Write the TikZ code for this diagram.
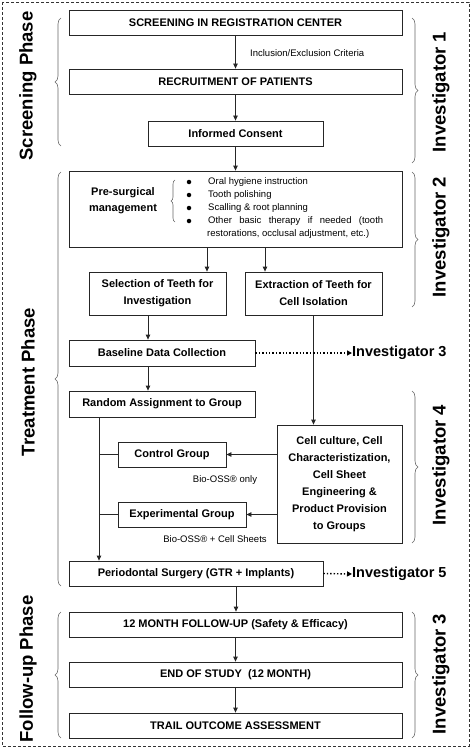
\documentclass[tikz,border=0pt]{standalone}
\usepackage{fontspec}
\setmainfont{Liberation Sans}
\usetikzlibrary{arrows.meta,decorations.pathreplacing}
\begin{document}
\begin{tikzpicture}[x=1pt,y=-1pt,
 box/.style={draw=black!85,line width=0.8pt,inner sep=0pt,font=\bfseries\fontsize{11}{17}\selectfont,align=center},
 arr/.style={draw=black!85,line width=0.8pt,-{Triangle[length=5pt,width=4.5pt]}},
 ln/.style={draw=black!85,line width=0.8pt},
 dots/.style={draw=black,line width=1.4pt,dash pattern=on 1.4pt off 2pt,-{Triangle[length=5pt,width=5pt]}},
 brc/.style={draw=black!60,line width=0.6pt,decorate,decoration={brace,amplitude=6pt}},
 sbrc/.style={draw=black!60,line width=0.6pt,decorate,decoration={brace,amplitude=4pt}},
 side/.style={font=\bfseries\fontsize{18.5}{20}\selectfont,rotate=90},
 inv/.style={font=\bfseries\fontsize{14.5}{16}\selectfont,anchor=west,inner sep=0pt},
 small/.style={font=\fontsize{9.5}{11}\selectfont,inner sep=0pt},
 bul/.style={circle,fill=black,inner sep=0pt,minimum size=4.5pt},
]
\useasboundingbox (0,0) rectangle (472,749);
\draw[line width=0.8pt,black!80,dash pattern=on 3pt off 2pt] (2,2) rectangle (469,746);

% boxes
\node[box,minimum width=333pt,minimum height=25pt] (screen) at (235.5,22.5) {SCREENING IN REGISTRATION CENTER};
\node[box,minimum width=333pt,minimum height=25pt] (recruit) at (235.5,81.5) {RECRUITMENT OF PATIENTS};
\node[box,minimum width=175pt,minimum height=25pt] (consent) at (235.5,133.5) {Informed Consent};
\node[box,minimum width=333pt,minimum height=76pt] (presurg) at (235.5,209) {};
\node[box,minimum width=137pt,minimum height=43pt] (select) at (157.5,293.5) {Selection of Teeth for\\Investigation};
\node[box,minimum width=137pt,minimum height=43pt] (extract) at (313.5,293.5) {Extraction of Teeth for\\Cell Isolation};
\node[box,minimum width=186pt,minimum height=26pt] (baseline) at (162,353) {Baseline Data Collection};
\node[box,minimum width=186pt,minimum height=26pt] (random) at (162,404) {Random Assignment to Group};
\node[box,minimum width=108pt,minimum height=25pt] (control) at (172,454.5) {Control Group};
\node[box,minimum width=125pt,minimum height=118pt] (cell) at (339.5,484) {Cell culture, Cell\\Characteristization,\\Cell Sheet\\Engineering \&\\Product Provision\\to Groups};
\node[box,minimum width=128pt,minimum height=25pt] (exper) at (182,514.5) {Experimental Group};
\node[box,minimum width=254pt,minimum height=25pt] (surgery) at (196,573.5) {Periodontal Surgery (GTR + Implants)};
\node[box,minimum width=333pt,minimum height=25pt] (follow) at (235.5,624.5) {12 MONTH FOLLOW-UP (Safety \& Efficacy)};
\node[box,minimum width=333pt,minimum height=25pt] (endst) at (235.5,674.5) {END OF STUDY\ \ (12 MONTH)};
\node[box,minimum width=333pt,minimum height=25pt] (trail) at (235.5,725.5) {TRAIL OUTCOME ASSESSMENT};

% pre-surgical content
\node[font=\bfseries\fontsize{11}{16}\selectfont,align=center] (pstitle) at (123,201) {Pre-surgical\\management};
\draw[sbrc] (175,222) -- (175,180);
\node[bul] (b1) at (189,182) {};
\node[bul] (b2) at (189,195) {};
\node[bul] (b3) at (189,208) {};
\node[bul] (b4) at (189,221) {};
\node[small,anchor=west] (t1) at (208,182) {Oral hygiene instruction};
\node[small,anchor=west] (t2) at (208,195) {Tooth polishing};
\node[small,anchor=west] (t3) at (208,208) {Scalling \& root planning};
\node[small,anchor=west] (t4) at (208,221) {\makebox[175pt][s]{Other basic therapy if needed (tooth}};
\node[small,anchor=west] (t5) at (207,234) {restorations, occlusal adjustment, etc.)};

% labels
\node[small,anchor=west] (incl) at (250,53) {Inclusion/Exclusion Criteria};
\node[small] (bio1) at (225,480) {Bio-OSS\textregistered\ only};
\node[small] (bio2) at (215,539) {Bio-OSS\textregistered\ + Cell Sheets};
\node[inv] (inv3a) at (352,353) {Investigator 3};
\node[inv] (inv5) at (352,574) {Investigator 5};

% side labels
\node[side] (ph1) at (28,86) {Screening Phase};
\node[side] (ph2) at (28,382) {Treatment Phase};
\node[side] (ph3) at (28,669) {Follow-up Phase};
\node[side] (i1) at (441,92) {Investigator 1};
\node[side] (i2) at (441,237) {Investigator 2};
\node[side] (i4) at (441,465) {Investigator 4};
\node[side] (i3) at (441,674) {Investigator 3};

% braces
\draw[brc] (61,146) -- (61,18);
\draw[brc] (61,586) -- (61,172);
\draw[brc] (61,738) -- (61,612);
\draw[brc] (412,18) -- (412,163);
\draw[brc] (412,172) -- (412,307);
\draw[brc] (412,391) -- (412,543);
\draw[brc] (412,612) -- (412,738);

% connectors
\draw[arr] (screen) -- (recruit);
\draw[arr] (recruit) -- (consent);
\draw[arr] (consent) -- (presurg);
\draw[arr] (207,0 |- presurg.south) -- (207,0 |- select.north);
\draw[arr] (265,0 |- presurg.south) -- (265,0 |- extract.north);
\draw[arr] (148,0 |- select.south) -- (148,0 |- baseline.north);
\draw[arr] (148,0 |- baseline.south) -- (148,0 |- random.north);
\draw[arr] (extract.south) -- (extract.south |- cell.north);
\draw[arr] (99,0 |- random.south) -- (99,0 |- surgery.north);
\draw[ln] (99,0 |- control.west) -- (control.west);
\draw[ln] (99,0 |- exper.west) -- (exper.west);
\draw[arr] (cell.west |- control.east) -- (control.east);
\draw[arr] (cell.west |- exper.east) -- (exper.east);
\draw[arr] (236,0 |- surgery.south) -- (236,0 |- follow.north);
\draw[arr] (follow) -- (endst);
\draw[arr] (endst) -- (trail);
\draw[dots] (baseline.east) -- (inv3a.west);
\draw[dots] (surgery.east) -- (inv5.west);
\end{tikzpicture}
\end{document}
